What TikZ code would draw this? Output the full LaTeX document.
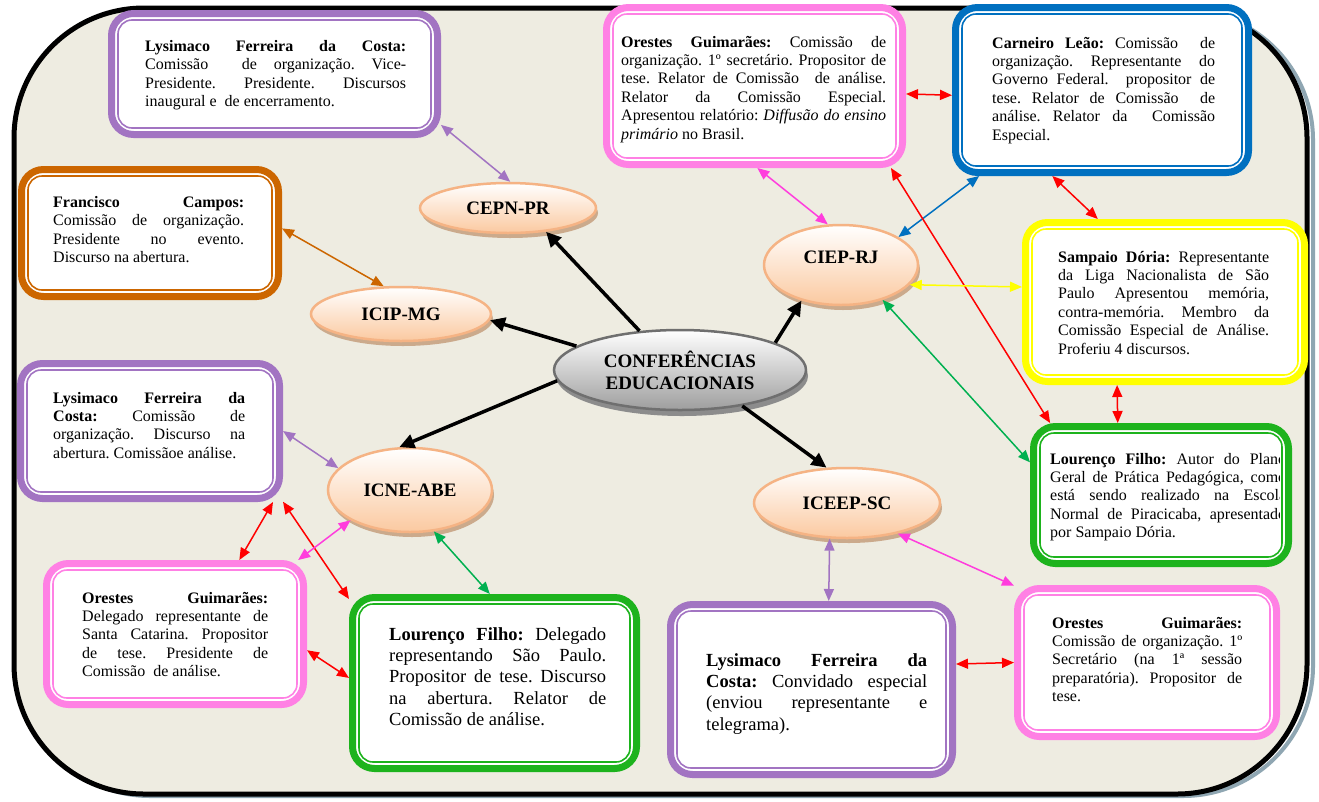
\documentclass[tikz,border=0pt]{standalone}
\usepackage{fontspec}
\setmainfont{Liberation Serif}
\usetikzlibrary{arrows.meta,shapes.geometric,shadows}

\definecolor{paper}{HTML}{EEECE1}
\definecolor{lilac}{HTML}{A274C2}
\definecolor{rosa}{HTML}{FF80E4}
\definecolor{magentaline}{HTML}{FF3DDD}
\definecolor{azul}{HTML}{0070C0}
\definecolor{laranja}{HTML}{CC6600}
\definecolor{amarelo}{HTML}{FFFF00}
\definecolor{verde}{HTML}{1DB31D}
\definecolor{verdeline}{HTML}{00B050}
\definecolor{vermelho}{HTML}{FF0000}
\definecolor{peach}{HTML}{FBC9A0}
\definecolor{peachline}{HTML}{F5B384}
\definecolor{rimtan}{HTML}{CBAA8C}
\definecolor{hubgray}{HTML}{9E9E9E}
\definecolor{hubline}{HTML}{6F6F6F}
\definecolor{hubrim}{HTML}{8C8C8C}
\definecolor{frameshadow}{HTML}{8FA6B2}

\newcommand\bodyfont{\fontsize{16}{18.4}\selectfont\frenchspacing}
\newcommand\largebody{\fontsize{18.5}{21.4}\selectfont\frenchspacing}
\newcommand\topicfont{\fontsize{19}{22}\selectfont\bfseries}
% a block of text: justified lines (\jl) and a final natural line (\fl)
\newcommand\para[2]{\vtop{\hsize=#1\relax #2}}
\newcommand\jl[1]{\hbox to \hsize{#1}}
\newcommand\fl[1]{\hbox{#1}}

\tikzset{
  outerbox/.style={draw=#1, line width=7pt, fill=white, rounded corners=22pt,
    inner sep=0pt, outer sep=3.5pt},
  innerbox/.style={draw=#1, line width=1.6pt, rounded corners=14pt, inner sep=0pt},
  boxtext/.style={anchor=base west, inner sep=0pt, font=\bodyfont},
  topic/.style={ellipse, draw=peachline, line width=2.5pt, top color=white,
    bottom color=peach, font=\topicfont, inner sep=0pt, align=center,
    drop shadow={shadow xshift=2pt, shadow yshift=-5pt, opacity=1, fill=rimtan}},
  hub/.style={ellipse, draw=hubline, line width=2.5pt, top color=white,
    bottom color=hubgray, font=\topicfont, inner sep=0pt, align=center,
    drop shadow={shadow xshift=2pt, shadow yshift=-6pt, opacity=1, fill=hubrim}},
  mainarrow/.style={-{Triangle[length=15pt,width=14pt]}, line width=3.5pt, black},
  link/.style={{Triangle[length=12pt,width=10pt]}-{Triangle[length=12pt,width=10pt]},
    line width=1.5pt, draw=#1},
}

% #1 name, #2 colour, (#3,#4) top-left, (#5,#6) bottom-right of the outer edge
\newcommand\infobox[6]{%
  \pgfmathsetmacro\bxc{(#3+#5)/2}%
  \pgfmathsetmacro\byc{(#4+#6)/2}%
  \pgfmathsetmacro\bw{#5-#3}%
  \pgfmathsetmacro\bh{#6-#4}%
  \node[outerbox=#2, minimum width=\bw pt-7pt, minimum height=\bh pt-7pt] (#1) at (\bxc,\byc) {};
  \node[innerbox=#2, minimum width=\bw pt-20pt, minimum height=\bh pt-20pt] (#1-in) at (\bxc,\byc) {};
}

\begin{document}
\begin{tikzpicture}[x=1pt,y=-1pt]
\useasboundingbox (0,0) rectangle (1319,801);
\fill[white] (0,0) rectangle (1319,801);

% outer frame
\draw[frameshadow, line width=4pt, rounded corners=130pt] (20,10) rectangle (1313,796);
\draw[black, line width=5pt, fill=paper, rounded corners=130pt] (14,8) rectangle (1307,794);

% participant boxes
\infobox{lys1}{lilac}{108}{10}{441}{138}
\infobox{ore1}{rosa}{603}{4}{906}{168}
\infobox{car}{azul}{952}{4}{1252}{176}
\infobox{fra}{laranja}{18}{166}{282}{300}
\infobox{sam}{amarelo}{1022}{219}{1308}{385}
\infobox{lys2}{lilac}{17}{360}{283}{502}
\infobox{lou1}{verde}{1030}{423}{1292}{567}
\infobox{ore2}{rosa}{43}{560}{307}{708}
\infobox{lou2}{verde}{349}{594}{640}{772}
\infobox{lys3}{lilac}{667}{601}{956}{778}
\infobox{ore3}{rosa}{1014}{585}{1280}{740}

% box texts
\node[boxtext] (t-lys1) at (145,51.5) {\para{261pt}{%
  \jl{\textbf{Lysimaco Ferreira da Costa:}}%
  \jl{Comissão\ \ de organização. Vice-}%
  \jl{Presidente. Presidente. Discursos}%
  \fl{inaugural e\ \ de encerramento.}}};

\node[boxtext] (t-ore1) at (621,47) {\para{265pt}{%
  \jl{\textbf{Orestes Guimarães:} Comissão de}%
  \jl{organização. 1º secretário. Propositor de}%
  \jl{tese. Relator de Comissão\ \ de análise.}%
  \jl{Relator da Comissão Especial.}%
  \jl{Apresentou relatório: \textit{Diffusão do ensino}}%
  \fl{\textit{primário} no Brasil.}}};

\node[boxtext] (t-car) at (992,48) {\para{223pt}{%
  \jl{\textbf{Carneiro Leão:} Comissão\ \ de}%
  \jl{organização. Representante do}%
  \jl{Governo Federal.\ \ propositor de}%
  \jl{tese. Relator de Comissão\ \ de}%
  \jl{análise. Relator da\ \ Comissão}%
  \fl{Especial.}}};

\node[boxtext] (t-fra) at (53,207.5) {\para{191pt}{%
  \jl{\textbf{Francisco Campos:}}%
  \jl{Comissão de organização.}%
  \jl{Presidente no evento.}%
  \fl{Discurso na abertura.}}};

\node[boxtext] (t-sam) at (1058,262) {\para{211pt}{%
  \jl{\textbf{Sampaio Dória:} Representante}%
  \jl{da Liga Nacionalista de São}%
  \jl{Paulo Apresentou memória,}%
  \jl{contra-memória. Membro da}%
  \jl{Comissão Especial de Análise.}%
  \fl{Proferiu 4 discursos.}}};

\node[boxtext] (t-lys2) at (53,403) {\para{192pt}{%
  \jl{\textbf{Lysimaco Ferreira da}}%
  \jl{\textbf{Costa:} Comissão de}%
  \jl{organização. Discurso na}%
  \fl{abertura. Comissãoe análise.}}};

\begin{scope}
  \clip (1040,430) rectangle (1279,560);
  \node[boxtext] (t-lou1) at (1050,464) {\para{236pt}{%
    \jl{\textbf{Lourenço Filho:} Autor do Plano}%
    \jl{Geral de Prática Pedagógica, como}%
    \jl{está sendo realizado na Escola}%
    \jl{Normal de Piracicaba, apresentado}%
    \fl{por Sampaio Dória.}}};
\end{scope}

\node[boxtext] (t-ore2) at (82,603) {\para{186pt}{%
  \jl{\textbf{Orestes Guimarães:}}%
  \jl{Delegado representante de}%
  \jl{Santa Catarina. Propositor}%
  \jl{de tese. Presidente de}%
  \fl{Comissão\ \ de análise.}}};

\node[boxtext, font=\largebody] (t-lou2) at (389,640) {\para{217pt}{%
  \jl{\textbf{Lourenço Filho:} Delegado}%
  \jl{representando São Paulo.}%
  \jl{Propositor de tese. Discurso}%
  \jl{na abertura. Relator de}%
  \fl{Comissão de análise.}}};

\node[boxtext, font=\largebody] (t-lys3) at (706,666) {\para{221pt}{%
  \jl{\textbf{Lysimaco Ferreira da}}%
  \jl{\textbf{Costa:} Convidado especial}%
  \jl{(enviou representante e}%
  \fl{telegrama).}}};

\node[boxtext] (t-ore3) at (1052,628) {\para{190pt}{%
  \jl{\textbf{Orestes Guimarães:}}%
  \jl{Comissão de organização. 1º}%
  \jl{Secretário (na 1ª sessão}%
  \jl{preparatória). Propositor de}%
  \fl{tese.}}};

% conferences
\node[hub, minimum width=252pt, minimum height=80pt] (hub) at (680,370) {CONFERÊNCIAS\\EDUCACIONAIS};
\node[topic, minimum width=176pt, minimum height=50pt] (cepn) at (508,208) {CEPN-PR};
\node[topic, minimum width=180pt, minimum height=54pt] (icip) at (401,314) {ICIP-MG};
\node[topic, minimum width=154pt, minimum height=80pt, text height=13pt, text depth=16pt] (ciep) at (841,265) {CIEP-RJ};
\node[topic, minimum width=164pt, minimum height=84pt] (icne) at (410,490) {ICNE-ABE};
\node[topic, minimum width=186pt, minimum height=70pt] (iceep) at (847,503) {ICEEP-SC};

% from the centre to each conference
\draw[mainarrow] (hub.136) -- (cepn.-32);
\draw[mainarrow] (hub.167) -- (icip.-4);
\draw[mainarrow] (hub.16) -- (ciep.-138);
\draw[mainarrow] (hub.-175) -- (icne.104);
\draw[mainarrow] (hub.-30) -- (iceep.120);

% participants and conferences
\draw[link=lilac] (lys1.-17) -- (cepn.85);
\draw[link=laranja] (fra.2) -- (icip.122);
\draw[link=magentaline] (ore1.-88) -- (ciep.108);
\draw[link=vermelho] (ore1.-3.4) -- (car.182);
\draw[link=azul] (car.-145) -- (ciep.26);
\draw[link=vermelho] (car.-120) -- (sam.129);
\draw[link=vermelho] (ore1.-31) -- (lou1.147.5);
\draw[link=amarelo] (ciep.-16) -- (sam.174);
\draw[link=verdeline] (ciep.-40) -- (lou1.166);
\draw[link=vermelho] (sam.-120) -- (lou1.121);
\draw[link=lilac] (lys2.0.4) -- (icne.163);
\draw[link=vermelho] (lys2.-30.2) -- (ore2.49.6);
\draw[link=vermelho] (lys2.-28) -- (lou2.150);
\draw[link=magentaline] (icne.-153) -- (ore2.31);
\draw[link=verdeline] (icne.-60) -- (lou2.93);
\draw[link=vermelho] (ore2.-7) -- (lou2.178);
\draw[link=lilac] (iceep.-116) -- (lys3.79);
\draw[link=magentaline] (iceep.-31) -- (ore3.150);
\draw[link=vermelho] (lys3.10) -- (ore3.180);
\end{tikzpicture}
\end{document}
